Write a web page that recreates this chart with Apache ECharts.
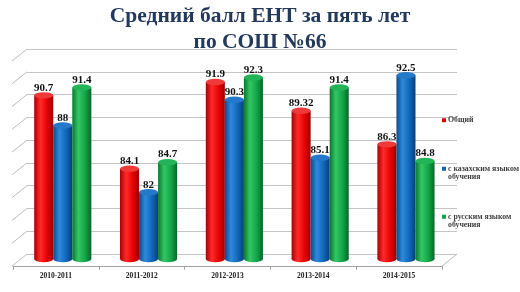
<!DOCTYPE html>
<html><head><meta charset="utf-8">
<script src="https://cdn.jsdelivr.net/npm/echarts@6/dist/echarts.min.js"></script>
<style>html,body{margin:0;padding:0;background:#fff}#c{width:520px;height:292px}</style>
</head><body><div id="c"></div>
<script>
const categories = ['2010-2011', '2011-2012', '2012-2013', '2013-2014', '2014-2015'];
const seriesNames = ['Общий', 'с казахским языком обучения', 'с русским языком обучения'];
const generalScores = [90.7, 84.1, 91.9, 89.32, 86.3];
const kazakhScores = [88, 82, 90.3, 85.1, 92.5];
const russianScores = [91.4, 84.7, 92.3, 91.4, 84.8];
const valueTicks = [76, 78, 80, 82, 84, 86, 88, 90, 92, 94];

const allValues = [generalScores, kazakhScores, russianScores];
const vMin = valueTicks[0], vMax = valueTicks[valueTicks.length - 1];
const vStep = valueTicks[1] - valueTicks[0];

const palettes = [
  {stops: ['#A80000', '#FF2A2A', '#E40000', '#980000'], top: '#F03A3A', legend: '#E00000'},
  {stops: ['#0A4A8E', '#2E8ADB', '#0E65B8', '#083E78'], top: '#2479C9', legend: '#1164B6'},
  {stops: ['#08782F', '#33C764', '#12A245', '#06652A'], top: '#22B456', legend: '#12A245'}
];
function grad(st) {
  return new echarts.graphic.LinearGradient(0, 0, 1, 0, [
    {offset: 0, color: st[0]}, {offset: 0.32, color: st[1]},
    {offset: 0.7, color: st[2]}, {offset: 1, color: st[3]}
  ]);
}
const DX = -15, DY = 12;
const serif = '"Liberation Serif", "DejaVu Serif", serif';

function barGeom(api, s) {
  const idx = api.value(0), val = api.value(1);
  const top = api.coord([idx, val]);
  const base = api.coord([idx, vMin]);
  const band = api.size([1, 0])[0];
  const w = band * 0.222;
  const cx = top[0] + band * 0.08 + (s - 1) * w;
  return {cx, topY: top[1], baseY: base[1], rx: w / 2, ry: 3.2, val};
}

const series = [];
series.push({
  type: 'custom', xAxisIndex: 0, yAxisIndex: 0, silent: true, z: 1,
  data: valueTicks.map(v => [0, v]),
  renderItem: function (params, api) {
    const p = api.coord([api.value(0), api.value(1)]);
    return {type: 'line', shape: {x1: p[0], y1: p[1], x2: p[0] + DX, y2: p[1] + DY},
      style: {stroke: '#BDBDBD', lineWidth: 1}};
  }
});
series.push({
  type: 'custom', xAxisIndex: 0, yAxisIndex: 0, silent: true, z: 1,
  data: [[1, vMin]],
  renderItem: function (params, api) {
    const p = api.coord([api.value(0), api.value(1)]);
    return {type: 'line', shape: {x1: p[0], y1: p[1], x2: p[0] + DX, y2: p[1] + DY},
      style: {stroke: '#BDBDBD', lineWidth: 1}};
  }
});
allValues.forEach((vals, s) => {
  const pal = palettes[s];
  series.push({
    name: seriesNames[s], type: 'custom', xAxisIndex: 1, yAxisIndex: 1, z: 3,
    itemStyle: {color: pal.legend},
    data: vals.map((v, i) => [i, v]),
    renderItem: function (params, api) {
      const g = barGeom(api, s);
      const sc = g.ry / g.rx;
      return {type: 'group', children: [
        {type: 'circle', x: g.cx, y: g.baseY, scaleY: sc, shape: {cx: 0, cy: 0, r: g.rx},
          style: {fill: grad(pal.stops)}},
        {type: 'rect', shape: {x: g.cx - g.rx, y: g.topY, width: g.rx * 2, height: g.baseY - g.topY},
          style: {fill: grad(pal.stops)}},
        {type: 'circle', x: g.cx, y: g.topY, scaleY: sc, shape: {cx: 0, cy: 0, r: g.rx},
          style: {fill: pal.top}}
      ]};
    }
  });
});
allValues.forEach((vals, s) => {
  series.push({
    type: 'custom', xAxisIndex: 1, yAxisIndex: 1, z: 6, silent: true,
    data: vals.map((v, i) => [i, v]),
    renderItem: function (params, api) {
      const g = barGeom(api, s);
      return {type: 'text', x: g.cx, y: g.topY - 7.5, style: {
        text: String(g.val), align: 'center', verticalAlign: 'middle',
        textAlign: 'center', textVerticalAlign: 'middle',
        font: 'bold 11px ' + serif, fill: '#111'}};
    }
  });
});

function legendFor(i, top) {
  return {
    orient: 'vertical', left: 437, top: top, itemWidth: 4, itemHeight: 4, icon: 'rect',
    data: [seriesNames[i]], selectedMode: false,
    formatter: function (n) { return n.indexOf(' обучения') >= 0 ? '\n' + n.replace(' обучения', '\nобучения') : n; },
    textStyle: {fontFamily: serif, fontWeight: 'bold', fontSize: 7.8, lineHeight: 8.5, color: '#404040', padding: [0, 0, 0, -3]}
  };
}

const chart = echarts.init(document.getElementById('c'), null, {renderer: 'canvas'});
chart.setOption({
  backgroundColor: '#fff',
  animation: false,
  title: {
    text: 'Средний балл ЕНТ за пять лет\nпо СОШ №66', left: 'center', top: -2,
    textStyle: {fontFamily: serif, fontWeight: 'bold', fontSize: 21.5, lineHeight: 26, color: '#23395B'}
  },
  legend: [legendFor(0, 111), legendFor(1, 151), legendFor(2, 199)],
  grid: [
    {left: 27, right: 63, top: 49, bottom: 38},
    {left: 13, right: 78, top: 58.6, bottom: 33}
  ],
  xAxis: [
    {gridIndex: 0, type: 'value', min: 0, max: 1, show: false},
    {gridIndex: 1, type: 'category', data: categories, offset: 7.7,
      axisLine: {show: true, lineStyle: {color: '#A0A0A0', width: 1}},
      axisTick: {show: true, length: 3, lineStyle: {color: '#A0A0A0'}},
      axisLabel: {fontFamily: serif, fontWeight: 'bold', fontSize: 7.5, color: '#222', margin: 5}}
  ],
  yAxis: [
    {gridIndex: 0, type: 'value', min: vMin, max: vMax, interval: vStep,
      axisLine: {show: false}, axisTick: {show: false}, axisLabel: {show: false},
      splitLine: {show: true, lineStyle: {color: '#C4C4C4', width: 1}}},
    {gridIndex: 1, type: 'value', min: vMin, max: vMax, interval: vStep, show: false,
      splitLine: {show: false}}
  ],
  series: series
});
</script></body></html>
